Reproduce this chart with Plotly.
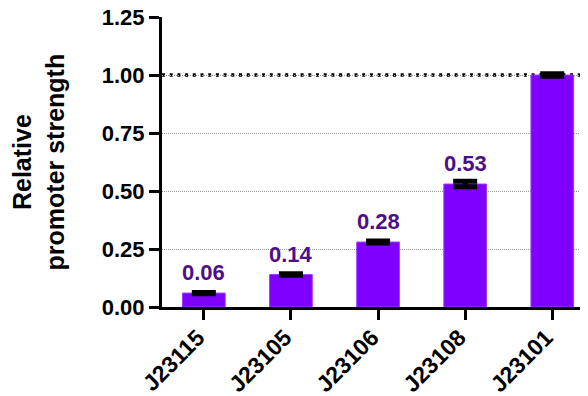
import plotly.graph_objects as go

categories = ["J23115", "J23105", "J23106", "J23108", "J23101"]
values = [0.06, 0.14, 0.28, 0.53, 1.00]
errors = [0.003, 0.003, 0.004, 0.012, 0.005]
value_labels = ["0.06", "0.14", "0.28", "0.53", ""]
y_ticks = [0, 0.25, 0.5, 0.75, 1.0, 1.25]
y_tick_labels = ["0.00", "0.25", "0.50", "0.75", "1.00", "1.25"]
reference_level = 1.0

FONT = "Arial, 'Liberation Sans', Helvetica, sans-serif"
BAR = "#7F00FF"
LABEL = "#4B1088"

fig = go.Figure()
fig.add_trace(go.Bar(
    x=list(range(len(categories))), y=values, width=0.49,
    marker=dict(color=BAR, line=dict(color="#9B3DFF", width=1)),
    error_y=dict(type="data", array=errors, visible=True,
                 color="black", thickness=5, width=12),
    showlegend=False,
))

for i, (v, lab) in enumerate(zip(values, value_labels)):
    if lab:
        fig.add_annotation(x=i, y=v, text=lab, showarrow=False,
                           yanchor="bottom", yshift=6,
                           font=dict(family=FONT, size=22, color=LABEL, weight="bold"))

fig.add_shape(type="line", xref="paper", x0=0, x1=1, yref="y",
              y0=reference_level, y1=reference_level, layer="between",
              line=dict(color="black", width=3.5, dash="3px,4.7px"))

fig.add_annotation(xref="paper", yref="paper", x=-0.29, y=0.5,
                   text="Relative<br>promoter strength", textangle=-90,
                   showarrow=False, xanchor="center", yanchor="middle",
                   font=dict(family=FONT, size=25, color="black", weight="bold"))

fig.update_layout(
    width=580, height=388,
    margin=dict(l=154, r=0, t=9, b=89),
    plot_bgcolor="white", paper_bgcolor="white",
    bargap=0.5,
)
fig.update_xaxes(
    range=[-0.48, 4.41], tickmode="array",
    tickvals=list(range(len(categories))), ticktext=categories,
    tickangle=-45, ticks="outside", ticklen=10, tickwidth=3, tickcolor="black",
    showline=True, linewidth=3, linecolor="black", showgrid=False, zeroline=False,
    automargin=False, ticklabeloverflow="allow",
    ticklabelstandoff=-5, ticklabelshift=-6,
    tickfont=dict(family=FONT, size=23, color="black", weight="bold"),
)
fig.update_yaxes(
    range=[0, 1.25], tickmode="array", tickvals=y_ticks, ticktext=y_tick_labels,
    ticks="outside", ticklen=10, tickwidth=3, tickcolor="black",
    showline=True, linewidth=3, linecolor="black",
    showgrid=True, gridcolor="#999999", gridwidth=1, griddash="1px,1px",
    zeroline=False, automargin=False, ticklabeloverflow="allow",
    tickfont=dict(family=FONT, size=22, color="black", weight="bold"),
)

fig.write_html("out.html")
